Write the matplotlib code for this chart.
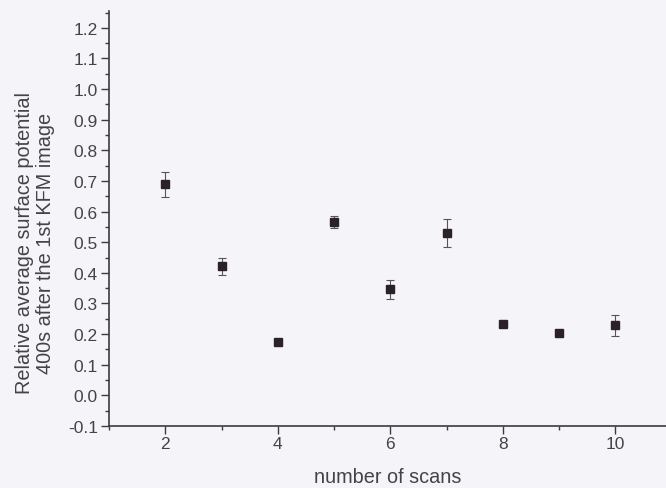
import matplotlib.pyplot as plt
from matplotlib.ticker import MultipleLocator

plt.rcParams['font.family'] = ['Liberation Sans', 'DejaVu Sans']

# number of scans and relative surface potential (400 s after the 1st KFM image)
scans = [2, 3, 4, 5, 6, 7, 8, 9, 10]
potential = [0.689, 0.421, 0.175, 0.565, 0.347, 0.531, 0.233, 0.203, 0.229]
errors = [0.040, 0.027, 0.008, 0.019, 0.031, 0.046, 0.010, 0.006, 0.035]

bg = '#f4f4f9'
ink = '#3c3c40'

fig = plt.figure(figsize=(6.66, 4.89), dpi=100, facecolor=bg)
ax = fig.add_axes([0.1637, 0.1268, 0.8363, 0.8487], facecolor=bg)

ax.errorbar(scans, potential, yerr=errors, fmt='s', color='#2a2228',
            markersize=6, ecolor='#555558', elinewidth=0.8, capsize=3,
            capthick=0.8)

ax.set_xlim(1.0, 10.9)
ax.set_ylim(-0.1, 1.255)
ax.xaxis.set_major_locator(MultipleLocator(2))
ax.xaxis.set_minor_locator(MultipleLocator(1))
ax.yaxis.set_major_locator(MultipleLocator(0.1))
ax.yaxis.set_minor_locator(MultipleLocator(0.05))
ax.yaxis.set_major_formatter(plt.FuncFormatter(lambda v, p: f'{v:.1f}'))

for side in ['top', 'right']:
    ax.spines[side].set_visible(False)
for side in ['left', 'bottom']:
    ax.spines[side].set_color(ink)
    ax.spines[side].set_linewidth(1.2)

ax.tick_params(which='major', direction='out', length=6, width=1, colors=ink,
               labelsize=12.5, labelcolor='#444448')
ax.tick_params(which='minor', direction='out', length=3, width=1, colors=ink)
ax.tick_params(axis='y', pad=2)
ax.tick_params(axis='x', pad=1.5)

ax.set_xlabel('number of scans', fontsize=14.3, color='#444448', labelpad=11)
ax.set_ylabel('Relative average surface potential\n400s after the 1st KFM image',
              fontsize=14.3, color='#444448', labelpad=9, linespacing=1.15)
# label sits a bit below the middle of the axis
ax.yaxis.label.set_y(0.443)

fig.savefig('out.png', dpi=100, facecolor=bg)
